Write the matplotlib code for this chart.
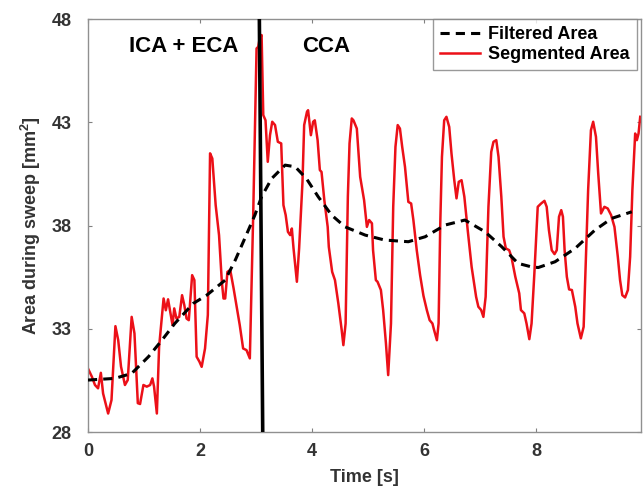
import matplotlib
matplotlib.use('Agg')
import matplotlib.pyplot as plt

plt.rcParams['font.family'] = ['Liberation Sans', 'DejaVu Sans']
plt.rcParams['font.weight'] = 'bold'
plt.rcParams['mathtext.fontset'] = 'custom'
plt.rcParams['mathtext.bf'] = 'Liberation Sans:bold'
plt.rcParams['mathtext.rm'] = 'Liberation Sans:bold'
plt.rcParams['mathtext.default'] = 'bf'

# segmented area (red)
seg_t = [0.0, 0.07, 0.125, 0.18, 0.23, 0.27, 0.36, 0.42, 0.49, 0.54, 0.59, 0.66, 0.71,
         0.78, 0.83, 0.89, 0.93, 0.99, 1.05, 1.11, 1.15, 1.18, 1.23, 1.27, 1.35, 1.39,
         1.43, 1.51, 1.54, 1.58, 1.63, 1.68, 1.72, 1.76, 1.80, 1.86, 1.90, 1.94, 1.99,
         2.03, 2.09, 2.14, 2.18, 2.22, 2.28, 2.34, 2.39, 2.42, 2.45, 2.49, 2.54, 2.60,
         2.66, 2.71, 2.77, 2.83, 2.89, 2.95, 3.01, 3.04, 3.07, 3.10, 3.13, 3.17, 3.21,
         3.25, 3.29, 3.34, 3.39, 3.45, 3.49, 3.53, 3.57, 3.61, 3.64, 3.67, 3.73, 3.77,
         3.83, 3.86, 3.91, 3.93, 3.98, 4.02, 4.05, 4.10, 4.14, 4.17, 4.22, 4.28, 4.30,
         4.36, 4.41, 4.47, 4.53, 4.56, 4.60, 4.64, 4.67, 4.71, 4.74, 4.80, 4.86, 4.93,
         4.98, 5.02, 5.07, 5.09, 5.14, 5.17, 5.23, 5.27, 5.32, 5.36, 5.41, 5.45, 5.49,
         5.53, 5.57, 5.61, 5.66, 5.72, 5.77, 5.81, 5.87, 5.93, 5.99, 6.05, 6.10, 6.15,
         6.18, 6.23, 6.26, 6.29, 6.32, 6.36, 6.40, 6.45, 6.49, 6.54, 6.58, 6.62, 6.67,
         6.72, 6.78, 6.85, 6.93, 6.97, 7.02, 7.06, 7.10, 7.15, 7.20, 7.24, 7.29, 7.33,
         7.38, 7.42, 7.46, 7.52, 7.56, 7.63, 7.70, 7.73, 7.79, 7.83, 7.88, 7.92, 7.97,
         8.03, 8.09, 8.15, 8.19, 8.23, 8.28, 8.33, 8.37, 8.41, 8.45, 8.48, 8.51, 8.55,
         8.59, 8.64, 8.70, 8.74, 8.80, 8.85, 8.89, 8.93, 8.98, 9.02, 9.07, 9.11, 9.16,
         9.22, 9.28, 9.34, 9.40, 9.46, 9.50, 9.54, 9.59, 9.64, 9.68, 9.72, 9.77, 9.80,
         9.83, 9.86]
seg_v = [31.08, 30.68, 30.28, 30.12, 30.87, 29.87, 28.90, 29.55, 33.13, 32.45, 31.17, 30.28, 30.52,
         33.58, 32.78, 29.40, 29.36, 30.28, 30.20, 30.28, 30.60, 30.20, 28.90, 32.13, 34.47, 33.90,
         34.43, 33.18, 33.99, 33.50, 33.58, 34.63, 34.15, 33.50, 33.42, 35.60, 35.36, 31.65, 31.41,
         31.16, 32.05, 33.67, 41.50, 41.25, 38.99, 37.54, 35.28, 34.47, 34.47, 35.76, 35.85, 34.96,
         33.99, 33.18, 32.05, 31.97, 31.57, 38.51, 46.58, 46.66, 47.14, 47.23, 43.35, 43.10, 41.09,
         42.38, 43.03, 42.87, 42.06, 41.98, 38.99, 38.51, 37.70, 37.54, 37.86, 36.90, 35.28, 36.90,
         40.12, 42.87, 43.51, 43.59, 42.38, 43.03, 43.10, 42.14, 40.69, 40.60, 39.23, 37.94, 36.97,
         35.76, 35.36, 34.23, 32.94, 32.21, 33.26, 39.40, 41.98, 43.19, 43.10, 42.70, 40.36, 39.23,
         37.94, 38.27, 38.11, 36.81, 35.36, 35.28, 34.88, 33.91, 32.30, 30.76, 33.26, 38.91, 41.82,
         42.87, 42.70, 41.82, 40.85, 39.15, 39.07, 38.27, 36.81, 35.60, 34.60, 33.91, 33.42, 33.26,
         32.94, 32.45, 33.26, 38.11, 41.33, 43.10, 43.27, 42.78, 41.50, 40.20, 39.32, 40.12, 40.20,
         39.40, 37.78, 36.00, 34.55, 34.07, 33.91, 33.58, 34.55, 38.91, 41.57, 42.06, 42.14, 41.33,
         39.40, 37.46, 36.90, 36.81, 36.49, 35.52, 34.72, 33.91, 33.75, 33.26, 32.50, 33.26, 35.68,
         38.91, 39.07, 39.20, 38.91, 37.78, 36.81, 36.62, 36.81, 38.43, 38.75, 38.43, 36.81, 35.52,
         34.91, 34.88, 34.07, 33.26, 32.54, 33.10, 36.49, 39.72, 42.62, 43.03, 42.30, 40.53, 38.59,
         38.91, 38.83, 38.51, 37.94, 36.49, 35.36, 34.63, 34.52, 34.88, 36.49, 39.72, 42.46, 42.14,
         42.46, 43.27]

# filtered area (black dashed)
filt_t = [0.0, 0.48, 0.78, 1.08, 1.32, 1.55, 1.88, 2.12, 2.45, 2.63, 2.80, 2.98, 3.10,
          3.28, 3.52, 3.70, 3.90, 4.11, 4.35, 4.59, 4.95, 5.30, 5.72, 6.02, 6.38, 6.73,
          7.09, 7.39, 7.68, 7.92, 8.04, 8.34, 8.70, 9.05, 9.35, 9.71]
filt_v = [30.52, 30.60, 30.84, 31.65, 32.45, 33.26, 34.23, 34.63, 35.36, 36.33, 37.38, 38.51, 39.40,
          40.28, 40.93, 40.85, 40.28, 39.40, 38.51, 37.94, 37.54, 37.30, 37.22, 37.46, 38.03, 38.27,
          37.70, 36.97, 36.17, 36.00, 35.97, 36.25, 36.90, 37.78, 38.35, 38.67]

# boundary between ICA+ECA and CCA
boundary_t = [3.06, 3.12]
boundary_v = [48, 28]

x_ticks = [0, 2, 4, 6, 8]
y_ticks = [28, 33, 38, 43, 48]

fig = plt.figure(figsize=(6.44, 4.91), dpi=100)
ax = fig.add_axes([0.1366, 0.120, 0.8584, 0.841])

ax.plot(filt_t, filt_v, color='black', lw=2.2, dashes=(3, 2), label='Filtered Area', zorder=3)
ax.plot(seg_t, seg_v, color='#ec1018', lw=1.8, label='Segmented Area', zorder=2)
ax.plot(boundary_t, boundary_v, color='black', lw=2.6, zorder=4)

ax.text(1.71, 46.66, 'ICA + ECA', fontsize=16, fontweight='bold', ha='center', va='center')
ax.text(4.25, 46.66, 'CCA', fontsize=16, fontweight='bold', ha='center', va='center')

ax.set_xlim(0, 9.87)
ax.set_ylim(28, 48)
ax.set_xticks(x_ticks)
ax.set_yticks(y_ticks)
ax.tick_params(direction='in', length=3, width=0.8, colors='#808080', labelcolor='#333333',
               labelsize=13, top=True, right=True)
ax.tick_params(axis='x', pad=8)
ax.tick_params(axis='y', pad=12)
for s in ax.spines.values():
    s.set_color('#909090')
    s.set_linewidth(1.0)

ax.set_xlabel('Time [s]', fontsize=13, fontweight='bold', color='#333333', labelpad=6)
ax.set_ylabel('Area during sweep [mm$^{2}$]', fontsize=13, fontweight='bold', color='#333333', labelpad=6)

leg = ax.legend(loc='upper right', bbox_to_anchor=(0.993, 1.0), fontsize=13, frameon=True,
                fancybox=False, borderaxespad=0, handlelength=2.2, handletextpad=0.45,
                borderpad=0.4, labelspacing=0.15)
leg.get_frame().set_edgecolor('#808080')
leg.get_frame().set_linewidth(1.0)
for t in leg.get_texts():
    t.set_fontweight('bold')

plt.savefig('out.png', dpi=100)
